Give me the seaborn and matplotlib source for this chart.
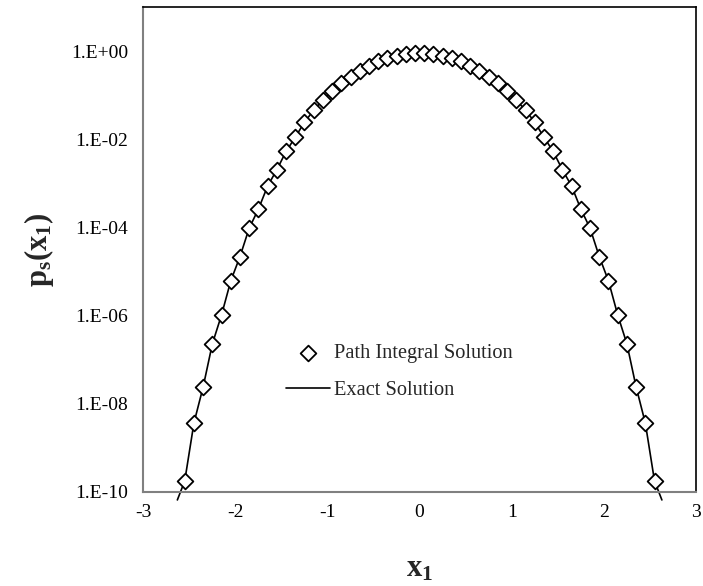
import numpy as np
import pandas as pd
import matplotlib
matplotlib.use("Agg")
import matplotlib.pyplot as plt
import seaborn as sns
from matplotlib.ticker import FixedLocator, FixedFormatter

# ---- data ----
x_pos = [0.05, 0.15, 0.25, 0.35, 0.45, 0.55, 0.65, 0.75, 0.85, 0.95,
         1.05, 1.15, 1.25, 1.35, 1.45, 1.55, 1.65, 1.75, 1.85, 1.95,
         2.05, 2.15, 2.25, 2.35, 2.45, 2.55]
p_pos = [0.902, 0.855, 0.794, 0.700, 0.593, 0.468, 0.366, 0.263, 0.189, 0.123,
         7.78e-2, 4.61e-2, 2.46e-2, 1.12e-2, 5.33e-3, 2.05e-3, 8.73e-4, 2.62e-4, 9.68e-5, 2.19e-5,
         6.15e-6, 1.04e-6, 2.28e-7, 2.40e-8, 3.64e-9, 1.75e-10]
# exact curve continues slightly below the axis at both ends
x_tail = 2.63
p_tail = 6.5e-11

x_ticks = [-3, -2, -1, 0, 1, 2, 3]
x_ticklabels = ["-3", "-2", "-1", "0", "1", "2", "3"]
y_ticks = [1e0, 1e-2, 1e-4, 1e-6, 1e-8, 1e-10]
y_ticklabels = ["1.E+00", "1.E-02", "1.E-04", "1.E-06", "1.E-08", "1.E-10"]

path_df = pd.DataFrame({
    "x": [-v for v in x_pos[::-1]] + x_pos,
    "p": p_pos[::-1] + p_pos,
})
exact_df = pd.DataFrame({
    "x": [-x_tail] + list(path_df["x"]) + [x_tail],
    "p": [p_tail] + list(path_df["p"]) + [p_tail],
})

sns.set_style("white")
plt.rcParams["font.family"] = ["Liberation Serif", "DejaVu Serif"]
plt.rcParams["mathtext.fontset"] = "custom"
plt.rcParams["mathtext.rm"] = "Liberation Serif"
plt.rcParams["mathtext.bf"] = "Liberation Serif:bold"
plt.rcParams["mathtext.it"] = "Liberation Serif:italic"

fig = plt.figure(figsize=(7.03, 5.86), dpi=100)
ax = fig.add_axes([0.2038, 0.1609, 0.9900 - 0.2038, 0.9875 - 0.1609])

sns.lineplot(data=exact_df, x="x", y="p", ax=ax, color="black", lw=1.2,
             sort=False, estimator=None, label="Exact Solution", clip_on=False, zorder=2)
sns.scatterplot(data=path_df, x="x", y="p", ax=ax, marker="D", s=64,
                facecolor="white", edgecolor="black", linewidth=1.3,
                label="Path Integral Solution", zorder=3)

ax.set_yscale("log")
ax.set_xlim(-3, 3)
ax.set_ylim(1e-10, 1e1)
ax.xaxis.set_major_locator(FixedLocator(x_ticks))
ax.xaxis.set_major_formatter(FixedFormatter(x_ticklabels))
ax.yaxis.set_major_locator(FixedLocator(y_ticks))
ax.yaxis.set_major_formatter(FixedFormatter(y_ticklabels))
ax.yaxis.set_minor_locator(FixedLocator([]))

ax.tick_params(axis="both", which="major", direction="in", length=4.5, width=1,
               color="#808080", labelsize=14, labelcolor="black")
ax.tick_params(axis="y", pad=11)
ax.tick_params(axis="x", pad=9)

for side in ["left", "bottom"]:
    ax.spines[side].set_color("#808080")
    ax.spines[side].set_linewidth(1.5)
for side in ["top", "right"]:
    ax.spines[side].set_color("black")
    ax.spines[side].set_linewidth(1.2)
    ax.spines[side].set_visible(True)

ax.set_xlabel(r"$\mathbf{x}_\mathbf{1}$", fontsize=22)
ax.set_ylabel(r"$\mathbf{p}_\mathbf{s}\mathbf{(x}_\mathbf{1}\mathbf{)}$", fontsize=22)
ax.xaxis.set_label_coords(0.5, -0.13)
ax.yaxis.set_label_coords(-0.157, 0.5)

handles, labels = ax.get_legend_handles_labels()
order = [labels.index("Path Integral Solution"), labels.index("Exact Solution")]
ax.legend([handles[i] for i in order], [labels[i] for i in order],
          loc="upper left", bbox_to_anchor=(0.259, 0.305), frameon=False,
          fontsize=14.7, handlelength=2.15, handletextpad=0.18, labelspacing=0.85,
          borderpad=0, borderaxespad=0)

fig.savefig("out.png", dpi=100)
